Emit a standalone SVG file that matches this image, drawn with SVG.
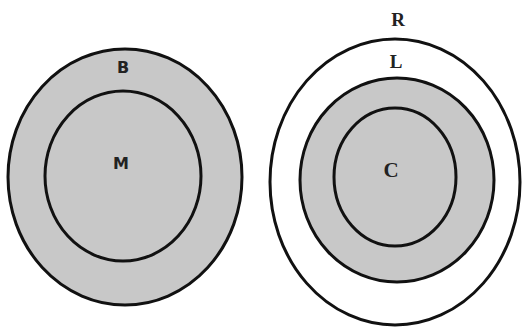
<svg xmlns="http://www.w3.org/2000/svg" width="524" height="329" viewBox="0 0 524 329">
<style>
.ring{stroke:#111;stroke-width:3}
.g{fill:#c8c8c8}
.w{fill:#fff}
.lab{font-family:"DejaVu Sans",sans-serif;font-weight:bold;font-size:16px;fill:#222;text-anchor:middle}
.lab2{font-family:"Liberation Serif",serif;font-weight:bold;font-size:19px;fill:#222;text-anchor:middle}
</style>
<rect width="524" height="329" fill="#fff"/>
<g id="B">
<ellipse class="ring g" cx="125" cy="177" rx="117" ry="128"/>
<text class="lab" x="123" y="73">B</text>
</g>
<g id="M">
<ellipse class="ring g" cx="123" cy="176" rx="78" ry="85"/>
<text class="lab" x="121" y="169">M</text>
</g>
<g id="R">
<ellipse class="ring w" cx="395" cy="182" rx="125" ry="143"/>
<text class="lab2" x="398" y="26">R</text>
</g>
<g id="L">
<ellipse class="ring g" cx="397" cy="180" rx="97" ry="102"/>
<text class="lab2" x="396" y="68">L</text>
</g>
<g id="C">
<ellipse class="ring g" cx="395" cy="177" rx="61" ry="69"/>
<text class="lab2" x="391" y="177" style="font-size:21px">C</text>
</g>
<g id="connectors"/>
</svg>
